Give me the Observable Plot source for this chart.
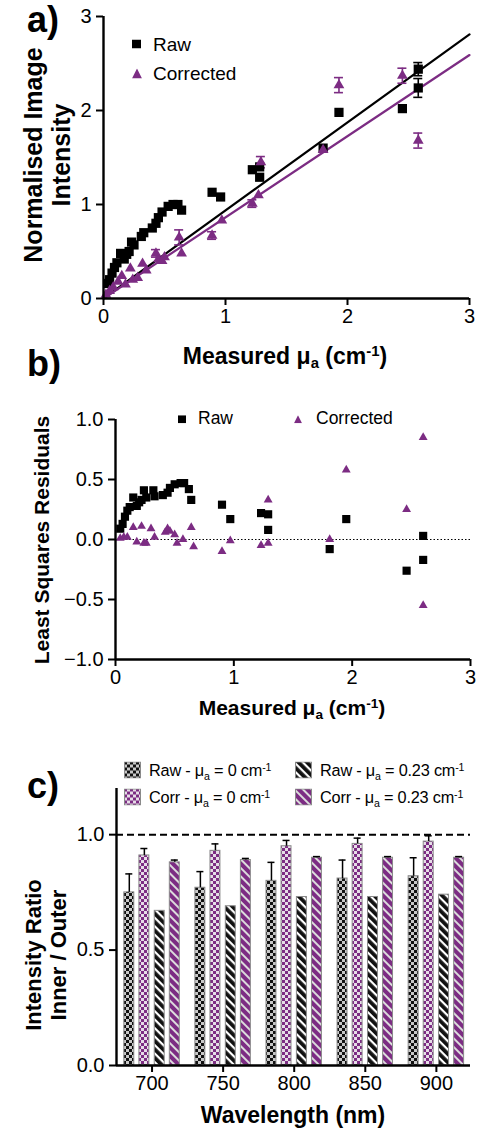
<!DOCTYPE html>
<html>
<head>
<meta charset="utf-8">
<script src="https://cdn.jsdelivr.net/npm/d3@7"></script>
<script src="https://cdn.jsdelivr.net/npm/@observablehq/plot@0.6"></script>
<style>
  html,body{margin:0;padding:0;background:#fff;}
  #root{position:relative;width:483px;height:1129px;overflow:hidden;font-family:"Liberation Sans",Arial,Helvetica,sans-serif;color:#000;}
  .plot{position:absolute;left:0;}
  .lbl{position:absolute;white-space:nowrap;line-height:1;transform:translate(-50%,-50%);}
  .rot{transform:translate(-50%,-50%) rotate(-90deg);text-align:center;line-height:1.12;}
  .b{font-weight:bold;}
  .panel{position:absolute;font-weight:bold;font-size:36px;line-height:1;}
  .leg{position:absolute;white-space:nowrap;line-height:1;display:flex;align-items:center;transform:translateY(-50%);}
  .leg svg{display:block;}
  sub,sup{font-size:65%;line-height:0;position:relative;vertical-align:baseline;}
  sub{top:0.3em;} sup{top:-0.55em;}
</style>
</head>
<body>
<div id="root">
<svg width="0" height="0" style="position:absolute">
  <defs>
    <pattern id="chkK" width="6" height="6" patternUnits="userSpaceOnUse">
      <rect width="6" height="6" fill="#c8c8c8"/><rect width="3" height="3" fill="#111"/><rect x="3" y="3" width="3" height="3" fill="#111"/>
    </pattern>
    <pattern id="chkP" width="6" height="6" patternUnits="userSpaceOnUse">
      <rect width="6" height="6" fill="#e6dde7"/><rect width="3" height="3" fill="#7c2c83"/><rect x="3" y="3" width="3" height="3" fill="#7c2c83"/>
    </pattern>
    <pattern id="strK" width="6" height="6" patternUnits="userSpaceOnUse" patternTransform="rotate(45)">
      <rect width="6" height="6" fill="#111"/><rect width="6" height="2.2" fill="#fff"/>
    </pattern>
    <pattern id="strP" width="6" height="6" patternUnits="userSpaceOnUse" patternTransform="rotate(45)">
      <rect width="6" height="6" fill="#7c2c83"/><rect width="6" height="2" fill="#dcdcdc"/>
    </pattern>
  </defs>
</svg>
</div>
<script>
// ---------------- Panel a data ----------------
const rawA_mu  = [0.04,0.05,0.07,0.09,0.11,0.14,0.17,0.19,0.21,0.23,0.25,0.31,0.33,0.40,0.43,0.45,0.48,0.53,0.57,0.61,0.64,0.89,0.96,1.22,1.28,1.28,1.80,1.93,2.45,2.58,2.58];
const rawA_int = [0.16,0.20,0.27,0.33,0.38,0.48,0.42,0.47,0.50,0.60,0.57,0.66,0.70,0.75,0.80,0.86,0.92,0.98,1.00,1.00,0.94,1.13,1.08,1.37,1.40,1.29,1.60,1.98,2.02,2.44,2.24];
const rawA_err = [0,0,0,0,0,0,0,0,0,0,0,0,0,0,0,0,0,0,0,0,0,0,0,0,0,0,0,0,0,0.07,0.10];
const corA_mu  = [0.02,0.05,0.08,0.12,0.15,0.18,0.22,0.24,0.28,0.32,0.35,0.43,0.45,0.48,0.50,0.62,0.64,0.89,0.97,1.22,1.27,1.29,1.80,1.93,2.45,2.58];
const corA_int = [0.04,0.08,0.12,0.18,0.24,0.15,0.32,0.20,0.22,0.37,0.30,0.48,0.42,0.40,0.44,0.65,0.48,0.67,0.83,1.01,1.10,1.45,1.58,2.27,2.37,1.68];
const corA_err = [0,0,0,0,0,0,0,0,0,0,0,0.04,0,0,0,0.08,0,0.04,0,0.04,0,0.06,0,0.08,0.08,0.08];
const fit_mu = [0, 3];
const rawFit = [0, 2.81];
const corFit = [0, 2.59];
const ticksA = [0, 1, 2, 3];

// ---------------- Panel b data ----------------
const rawB_mu  = [0.04,0.06,0.08,0.10,0.12,0.15,0.18,0.20,0.22,0.24,0.26,0.32,0.33,0.40,0.44,0.46,0.50,0.55,0.58,0.62,0.64,0.90,0.97,1.23,1.29,1.29,1.81,1.95,2.46,2.60,2.60];
const rawB_res = [0.09,0.13,0.19,0.24,0.27,0.35,0.28,0.31,0.33,0.41,0.35,0.41,0.36,0.37,0.39,0.43,0.46,0.47,0.47,0.42,0.33,0.29,0.17,0.22,0.21,0.08,-0.08,0.17,-0.26,0.03,-0.17];
const corB_mu  = [0.04,0.07,0.10,0.15,0.18,0.22,0.24,0.26,0.30,0.33,0.42,0.44,0.46,0.50,0.52,0.57,0.64,0.66,0.90,0.97,1.23,1.29,1.29,1.81,1.95,2.46,2.60,2.60];
const corB_res = [0.01,0.02,0.02,0.10,-0.02,0.11,-0.03,-0.03,0.09,0.02,0.06,0.09,0.07,0.04,-0.03,0.00,0.10,-0.06,-0.10,-0.01,-0.05,-0.03,0.33,0.00,0.58,0.25,0.85,-0.55];
const ticksBx = [0, 1, 2, 3];
const ticksBy = [-1, -0.5, 0, 0.5, 1];

// ---------------- Panel c data ----------------
const wavelengths = [700, 750, 800, 850, 900];
const raw0   = [0.75, 0.77, 0.80, 0.81, 0.82];
const raw0E  = [0.08, 0.07, 0.08, 0.08, 0.08];
const corr0  = [0.91, 0.93, 0.95, 0.96, 0.97];
const corr0E = [0.03, 0.03, 0.025, 0.025, 0.025];
const raw23  = [0.67, 0.69, 0.73, 0.73, 0.74];
const raw23E = [0, 0, 0, 0, 0];
const corr23 = [0.88, 0.89, 0.90, 0.90, 0.90];
const corr23E= [0.01, 0.007, 0.005, 0.005, 0.005];
const seriesLabels = [
  'Raw - μ<sub>a</sub> = 0 cm<sup>-1</sup>',
  'Corr - μ<sub>a</sub> = 0 cm<sup>-1</sup>',
  'Raw - μ<sub>a</sub> = 0.23 cm<sup>-1</sup>',
  'Corr - μ<sub>a</sub> = 0.23 cm<sup>-1</sup>'
];
const ticksCx = [700, 750, 800, 850, 900];
const ticksCy = [0, 0.5, 1.0];

// ---------------- styles ----------------
const purple = "#7c2c83";
const font = '"Liberation Sans", Arial, Helvetica, sans-serif';
const root = document.getElementById("root");
const style = () => ({fontFamily: font, fontSize: "20px", color: "#000", background: "transparent", overflow: "visible"});
const axisOpts = {tickSize: 7, strokeWidth: 2, label: null, fontSize: 20};

function errMarks(data, xf, color) {
  const d = data.filter(r => r.e > 0);
  return [
    Plot.ruleX(d, {x: xf, y1: r => r.v - r.e, y2: r => r.v + r.e, stroke: color, strokeWidth: 1.6}),
    Plot.ruleY(d, {y: r => r.v + r.e, x1: xf, x2: xf, insetLeft: -4.5, insetRight: -4.5, stroke: color, strokeWidth: 1.6}),
    Plot.ruleY(d, {y: r => r.v - r.e, x1: xf, x2: xf, insetLeft: -4.5, insetRight: -4.5, stroke: color, strokeWidth: 1.6})
  ];
}

function place(svg, top) {
  const div = document.createElement("div");
  div.className = "plot";
  div.style.top = top + "px";
  div.appendChild(svg);
  root.appendChild(div);
}
function html(cls, x, y, content, css) {
  const el = document.createElement("div");
  el.className = cls;
  el.style.left = x + "px";
  el.style.top = y + "px";
  el.innerHTML = content;
  if (css) Object.assign(el.style, css);
  root.appendChild(el);
  return el;
}

// ---------------- Panel a ----------------
const A_raw = rawA_mu.map((mu, i) => ({mu, v: rawA_int[i], e: rawA_err[i]}));
const A_cor = corA_mu.map((mu, i) => ({mu, v: corA_int[i], e: corA_err[i]}));
const A_fit = fit_mu.map((mu, i) => ({mu, raw: rawFit[i], cor: corFit[i]}));

const pa = Plot.plot({
  width: 483, height: 340, marginLeft: 103, marginRight: 14, marginTop: 16, marginBottom: 42,
  style: style(),
  x: {domain: [0, 3]}, y: {domain: [0, 3]},
  marks: [
    Plot.line(A_fit, {x: "mu", y: "raw", stroke: "#000", strokeWidth: 2.2}),
    Plot.line(A_fit, {x: "mu", y: "cor", stroke: purple, strokeWidth: 2.2}),
    ...errMarks(A_raw, "mu", "#000"),
    ...errMarks(A_cor, "mu", purple),
    Plot.dot(A_raw, {x: "mu", y: "v", symbol: "square", r: 5.2, fill: "#000"}),
    Plot.dot(A_cor, {x: "mu", y: "v", symbol: "triangle", r: 4, fill: purple}),
    Plot.ruleX([0], {y1: 0, y2: 3, strokeWidth: 2.4}),
    Plot.ruleY([0], {x1: 0, x2: 3, strokeWidth: 2.4}),
    Plot.axisX({...axisOpts, ticks: ticksA, tickFormat: d3.format("d"), tickPadding: 3}),
    Plot.axisY({...axisOpts, ticks: ticksA, tickFormat: d3.format("d"), tickPadding: 5})
  ]
});
place(pa, 0);

// ---------------- Panel b ----------------
const B_raw = rawB_mu.map((mu, i) => ({mu, v: rawB_res[i]}));
const B_cor = corB_mu.map((mu, i) => ({mu, v: corB_res[i]}));
const pb = Plot.plot({
  width: 483, height: 300, marginLeft: 115, marginRight: 13, marginTop: 19, marginBottom: 41,
  style: style(),
  x: {domain: [0, 3]}, y: {domain: [-1, 1]},
  marks: [
    Plot.ruleY([0], {x1: 0, x2: 3, stroke: "#000", strokeWidth: 1.2, strokeDasharray: "1.5,2"}),
    Plot.dot(B_raw, {x: "mu", y: "v", symbol: "square", r: 4.6, fill: "#000"}),
    Plot.dot(B_cor, {x: "mu", y: "v", symbol: "triangle", r: 3.3, fill: purple}),
    Plot.ruleX([0], {y1: -1, y2: 1, strokeWidth: 2.4}),
    Plot.ruleY([-1], {x1: 0, x2: 3, strokeWidth: 2.4}),
    Plot.axisX({...axisOpts, ticks: ticksBx, tickFormat: d3.format("d"), tickPadding: 3}),
    Plot.axisY({...axisOpts, ticks: ticksBy, tickFormat: d3.format(".1f"), tickPadding: 5})
  ]
});
place(pb, 400);

// ---------------- Panel c ----------------
const offsets = [-16, -5.4, 5.4, 16];   // nm offset of each series within a group
const halfW = 3.5;                      // nm half-width of a bar
const fills = ["url(#chkK)", "url(#chkP)", "url(#strK)", "url(#strP)"];
const vals = [raw0, corr0, raw23, corr23];
const errs = [raw0E, corr0E, raw23E, corr23E];
const C = vals.map((arr, s) => wavelengths.map((w, i) => ({w, s, x: w + offsets[s], v: arr[i], e: errs[s][i]})));

const pc = Plot.plot({
  width: 483, height: 330, marginLeft: 116, marginRight: 13, marginTop: 18, marginBottom: 35,
  style: style(),
  x: {domain: [675, 924]}, y: {domain: [0, 1.2]},
  marks: [
    ...C.map((data, s) => Plot.rectY(data, {x1: d => d.x - halfW, x2: d => d.x + halfW, y1: 0, y2: "v", fill: fills[s], stroke: "#8a8a8a", strokeWidth: 1})),
    ...C.flatMap(data => {
      const d = data.filter(r => r.e > 0);
      return [
        Plot.ruleX(d, {x: "x", y1: "v", y2: r => r.v + r.e, stroke: "#000", strokeWidth: 1.5}),
        Plot.ruleY(d, {y: r => r.v + r.e, x1: "x", x2: "x", insetLeft: -3.5, insetRight: -3.5, stroke: "#000", strokeWidth: 1.5})
      ];
    }),
    Plot.ruleY([1], {stroke: "#000", strokeWidth: 2, strokeDasharray: "7,4"}),
    Plot.ruleX([675], {y1: 0, y2: 1.2, strokeWidth: 2.4}),
    Plot.ruleY([0], {strokeWidth: 2.4}),
    Plot.axisX({...axisOpts, ticks: ticksCx, tickFormat: d3.format("d"), tickPadding: 3}),
    Plot.axisY({...axisOpts, ticks: ticksCy, tickFormat: d3.format(".1f"), tickPadding: 5})
  ]
});
place(pc, 770);

// ---------------- text & legends ----------------
html("panel", 27, 2, "a)");
html("panel", 27, 346, "b)");
html("panel", 27, 768, "c)");

html("lbl rot b", 47, 155, "Normalised Image<br>Intensity", {fontSize: "25px"});
html("lbl b", 285, 356, "Measured μ<sub>a</sub> (cm<sup>-1</sup>)", {fontSize: "23px"});

html("lbl rot b", 42, 540, "Least Squares Residuals", {fontSize: "21px"});
html("lbl b", 292, 707, "Measured μ<sub>a</sub> (cm<sup>-1</sup>)", {fontSize: "21px"});

html("lbl rot b", 47, 955, "Intensity Ratio<br>Inner / Outer", {fontSize: "22px"});
html("lbl b", 293, 1115, "Wavelength (nm)", {fontSize: "23px"});

const sq = (s, c) => `<svg width="${s}" height="${s}"><rect width="${s}" height="${s}" fill="${c}"/></svg>`;
const tri = (s, c) => `<svg width="${s}" height="${s}"><path d="M${s/2},0L${s},${s}L0,${s}Z" fill="${c}"/></svg>`;

html("leg", 132, 44, sq(9, "#000") + '<span style="margin-left:12px;font-size:19px">Raw</span>');
html("leg", 132, 73, tri(10, purple) + '<span style="margin-left:11px;font-size:19px">Corrected</span>');

html("leg", 178, 419, sq(8, "#000") + '<span style="margin-left:12px;font-size:17.5px">Raw</span>');
html("leg", 294, 419, tri(8, purple) + '<span style="margin-left:14px;font-size:17.5px">Corrected</span>');

const sw = (f) => `<svg width="17" height="17"><rect x="0.5" y="0.5" width="16" height="16" fill="${f}" stroke="#8a8a8a"/></svg>`;
const legPos = [[124, 770], [124, 797], [295, 770], [295, 797]];
legPos.forEach(([x, y], s) => {
  html("leg", x, y, sw(fills[s]) + `<span style="margin-left:8px;font-size:16.3px;letter-spacing:-0.2px">${seriesLabels[s]}</span>`);
});
</script>
</body>
</html>
